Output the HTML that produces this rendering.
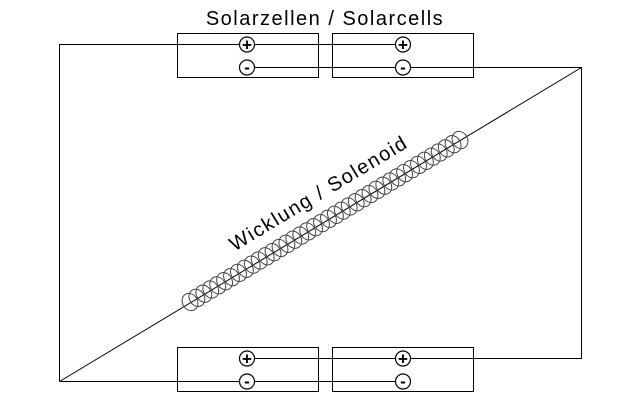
<!DOCTYPE html>
<html><head><meta charset="utf-8"><style>
html,body{margin:0;padding:0;background:#fff;}
svg{display:block;}
text{font-family:"Liberation Sans",sans-serif;}
</style></head><body>
<svg id="s" width="640" height="415" viewBox="0 0 640 415" xmlns="http://www.w3.org/2000/svg">
<g fill="none" stroke="#000" stroke-width="1">
<rect x="177.5" y="33.5" width="141" height="44"/>
<rect x="332.5" y="33.5" width="141" height="44"/>
<rect x="177.5" y="347.5" width="141" height="44"/>
<rect x="332.5" y="347.5" width="141" height="44"/>
<polyline points="59.5,381.5 59.5,44.5 403,44.5"/>
<polyline points="247,67.5 581.5,67.5 581.5,358.5 247,358.5"/>
<line x1="59.5" y1="381.5" x2="403" y2="381.5"/>
<line x1="59.5" y1="381.5" x2="581.5" y2="67.5"/>
</g>
<g id="coil" fill="none" stroke="#444" stroke-width="1"></g>
<g fill="#fff" stroke="#000" stroke-width="1.2">
<circle cx="247" cy="44.5" r="7.5"/><circle cx="403" cy="44.5" r="7.5"/>
<circle cx="247" cy="67.5" r="7.5"/><circle cx="403" cy="67.5" r="7.5"/>
<circle cx="247" cy="358.5" r="7.5"/><circle cx="403" cy="358.5" r="7.5"/>
<circle cx="247" cy="381.5" r="7.5"/><circle cx="403" cy="381.5" r="7.5"/>
</g>
<g font-size="17" font-weight="bold" text-anchor="middle">
<text x="247" y="50.5">+</text><text x="403" y="50.5">+</text>
<text x="247" y="73">-</text><text x="403" y="73">-</text>
<text x="247" y="364.5">+</text><text x="403" y="364.5">+</text>
<text x="247" y="387">-</text><text x="403" y="387">-</text>
</g>
<text x="325" y="25" font-size="20" letter-spacing="1.5" text-anchor="middle">Solarzellen / Solarcells</text>
<text x="0" y="0" font-size="20" letter-spacing="1.5" text-anchor="middle" transform="translate(322,199) rotate(-31)">Wicklung / Solenoid</text>
</svg>
<script>
var g=document.getElementById('coil'),n=40,s='';
for(var i=0;i<n;i++){var x=190+270*i/(n-1),y=302-162*i/(n-1);
s+='<ellipse cx="'+x.toFixed(1)+'" cy="'+y.toFixed(1)+'" rx="7.5" ry="9" transform="rotate(-31 '+x.toFixed(1)+' '+y.toFixed(1)+')"/>';}
g.innerHTML=s;
</script>
</body></html>
